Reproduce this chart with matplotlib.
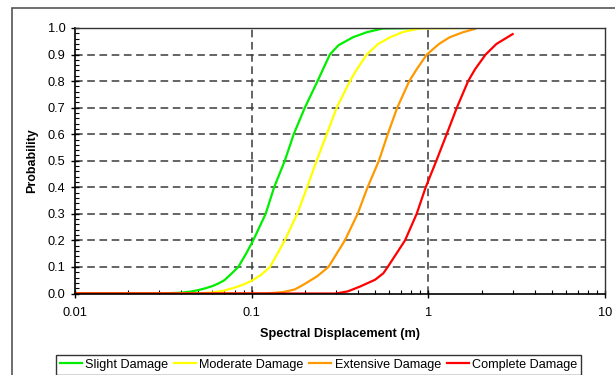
import numpy as np
import matplotlib
matplotlib.use("Agg")
import matplotlib.pyplot as plt
from matplotlib.patches import Rectangle
from matplotlib.ticker import MultipleLocator, LogLocator, NullFormatter, FixedLocator

plt.rcParams['font.family'] = ['Liberation Sans', 'DejaVu Sans']

# spectral displacement (m) / probability
slight_sd = [0.01, 0.03, 0.04, 0.045, 0.05, 0.055, 0.06, 0.065, 0.07, 0.077, 0.084,
             0.093, 0.102, 0.120, 0.134, 0.154, 0.173, 0.200, 0.236, 0.277,
             0.31, 0.374, 0.448, 0.55, 0.9]
slight_p = [0.0, 0.0, 0.003, 0.007, 0.013, 0.02, 0.028, 0.038, 0.05, 0.075, 0.1,
            0.15, 0.2, 0.3, 0.4, 0.5, 0.6, 0.7, 0.8, 0.9,
            0.935, 0.965, 0.984, 0.998, 1.0]

moderate_sd = [0.01, 0.05, 0.06, 0.07, 0.08, 0.09, 0.1, 0.113, 0.127, 0.154, 0.181,
               0.206, 0.233, 0.266, 0.303, 0.36, 0.39, 0.448, 0.52, 0.607, 0.718,
               0.89, 1.84]
moderate_p = [0.0, 0.0, 0.004, 0.011, 0.022, 0.034, 0.048, 0.07, 0.1, 0.2, 0.3,
              0.4, 0.5, 0.6, 0.7, 0.8, 0.84, 0.9, 0.94, 0.965, 0.985,
              0.998, 1.0]

extensive_sd = [0.01, 0.12, 0.15, 0.175, 0.195, 0.235, 0.272, 0.337, 0.398, 0.453,
                0.525, 0.589, 0.667, 0.78, 0.86, 0.98, 1.15, 1.32, 1.57, 1.84]
extensive_p = [0.0, 0.0, 0.005, 0.015, 0.032, 0.065, 0.1, 0.2, 0.3, 0.4,
               0.5, 0.6, 0.7, 0.8, 0.845, 0.9, 0.94, 0.965, 0.984, 0.997]

complete_sd = [0.01, 0.3, 0.35, 0.41, 0.5, 0.556, 0.589, 0.738, 0.859, 0.966, 1.11,
               1.27, 1.45, 1.68, 1.84, 2.11, 2.43, 3.0]
complete_p = [0.0, 0.0, 0.008, 0.026, 0.052, 0.076, 0.1, 0.2, 0.3, 0.4, 0.5,
              0.6, 0.7, 0.8, 0.845, 0.9, 0.94, 0.977]

x_ticks = [0.01, 0.1, 1, 10]
x_ticklabels = ["0.01", "0.1", "1", "10"]

fig = plt.figure(figsize=(6.15, 3.75), dpi=100)
W, H = 615, 375
ax = fig.add_axes([75 / W, 1 - 293.5 / H, 530 / W, 265.5 / H])

# outer chart frame (cut off at right and bottom)
fig.patches.append(Rectangle((12 / W, -0.1), 1.2, 1 - 7.5 / H + 0.1,
                             transform=fig.transFigure, fill=False,
                             edgecolor='#555555', linewidth=1.2))

ax.plot(slight_sd, slight_p, color='#00ee00', lw=1.6, label="Slight Damage")
ax.plot(moderate_sd, moderate_p, color='#ffff00', lw=1.6, label="Moderate Damage")
ax.plot(extensive_sd, extensive_p, color='#ff9900', lw=1.6, label="Extensive Damage")
ax.plot(complete_sd, complete_p, color='#ff0000', lw=1.6, label="Complete Damage")

ax.set_xscale('log')
ax.set_xlim(0.01, 10)
ax.set_ylim(0, 1)

grid_kw = dict(color='#3a3a3a', lw=1.1, dashes=(5, 3), zorder=0)
for yv in np.arange(0.1, 1.0, 0.1):
    ax.axhline(yv, **grid_kw)
for xv in [0.1, 1]:
    ax.axvline(xv, **grid_kw)

ax.xaxis.set_major_locator(FixedLocator(x_ticks))
ax.set_xticklabels(x_ticklabels)
ax.xaxis.set_minor_locator(LogLocator(base=10, subs=np.arange(2, 10)))
ax.xaxis.set_minor_formatter(NullFormatter())
ax.yaxis.set_major_locator(MultipleLocator(0.1))
ax.yaxis.set_minor_locator(MultipleLocator(0.02))
ax.yaxis.set_major_formatter(matplotlib.ticker.FormatStrFormatter('%.1f'))

ax.tick_params(axis='both', which='major', direction='inout', length=6,
               width=1, labelsize=9.2, colors='black', pad=4)
ax.tick_params(axis='both', which='minor', direction='in', length=3, width=0.8)
ax.tick_params(axis='x', which='major', pad=7)

for s in ['left', 'bottom']:
    ax.spines[s].set_color('black')
    ax.spines[s].set_linewidth(1.2)
for s in ['top', 'right']:
    ax.spines[s].set_color('#333333')
    ax.spines[s].set_linewidth(1.0)

ax.set_xlabel("Spectral Displacement (m)", fontsize=9.2, fontweight='bold', labelpad=6)
ax.set_ylabel("Probability", fontsize=9, fontweight='bold', labelpad=7)

leg = fig.legend(loc='upper center', bbox_to_anchor=(318.5 / W, 1 - 355 / H),
                 ncol=4, fontsize=9.1, frameon=True, fancybox=False,
                 edgecolor='black', handlelength=1.75, handletextpad=0.25,
                 columnspacing=0.45, borderpad=0.3, borderaxespad=0)
leg.get_frame().set_linewidth(1.0)

fig.savefig("out.png", dpi=100)
